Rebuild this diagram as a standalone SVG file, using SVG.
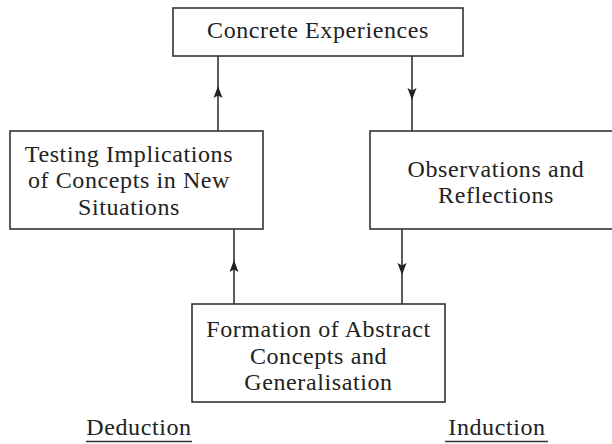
<svg xmlns="http://www.w3.org/2000/svg" width="612" height="444" viewBox="0 0 612 444">
<style>
.box{fill:#fff;stroke:#333;stroke-width:1.6}
.t{font-family:"Liberation Serif","Times New Roman",serif;font-size:24px;letter-spacing:0.6px;fill:#222;text-anchor:middle}
.ln{stroke:#333;stroke-width:1.6;fill:none}
.ah{fill:#222}
</style>
<defs>
<path id="ah" d="M0,0 L-4.5,12 L0,9.5 L4.5,12 Z"/>
</defs>
<rect width="612" height="444" fill="#fff"/>
<g id="connectors">
<line class="ln" x1="218" y1="131" x2="218" y2="56"/>
<use href="#ah" class="ah" transform="translate(218,86)"/>
<line class="ln" x1="412" y1="56" x2="412" y2="131"/>
<use href="#ah" class="ah" transform="translate(412,100) rotate(180)"/>
<line class="ln" x1="234" y1="304" x2="234" y2="229"/>
<use href="#ah" class="ah" transform="translate(234,260)"/>
<line class="ln" x1="402" y1="229" x2="402" y2="304"/>
<use href="#ah" class="ah" transform="translate(402,275) rotate(180)"/>
</g>
<g id="concrete">
<rect class="box" x="173" y="8" width="290" height="48"/>
<text class="t" x="318" y="38">Concrete Experiences</text>
</g>
<g id="testing">
<rect class="box" x="10" y="131" width="253" height="98"/>
<text class="t" x="129" y="162">Testing Implications</text>
<text class="t" x="129" y="188">of Concepts in New</text>
<text class="t" x="129" y="215">Situations</text>
</g>
<g id="observations">
<rect class="box" x="370" y="131" width="250" height="98"/>
<text class="t" x="496" y="177">Observations and</text>
<text class="t" x="496" y="203">Reflections</text>
</g>
<g id="formation">
<rect class="box" x="192" y="304" width="253" height="98"/>
<text class="t" x="318.5" y="337">Formation of Abstract</text>
<text class="t" x="318.5" y="364">Concepts and</text>
<text class="t" x="318.5" y="390">Generalisation</text>
</g>
<g id="deduction">
<text class="t" x="139" y="435">Deduction</text>
<line class="ln" x1="86" y1="441.5" x2="192" y2="441.5"/>
</g>
<g id="induction">
<text class="t" x="497" y="435">Induction</text>
<line class="ln" x1="445" y1="441.5" x2="548" y2="441.5"/>
</g>
</svg>
